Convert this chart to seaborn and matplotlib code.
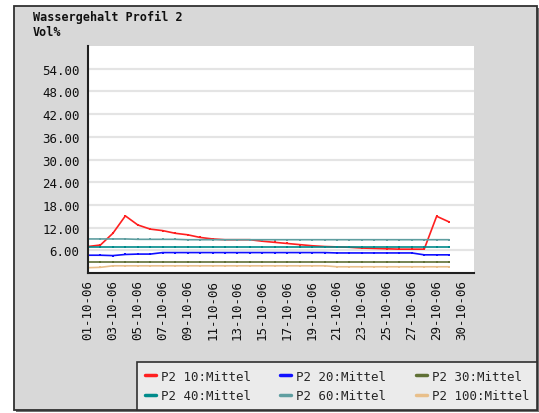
import matplotlib
matplotlib.use("Agg")
import matplotlib.pyplot as plt
from matplotlib.patches import Rectangle
import seaborn as sns
import pandas as pd

days = list(range(30))
tick_pos = [0, 2, 4, 6, 8, 10, 12, 14, 16, 18, 20, 22, 24, 26, 28, 30]
tick_labels = ["01-10-06", "03-10-06", "05-10-06", "07-10-06", "09-10-06",
               "11-10-06", "13-10-06", "15-10-06", "17-10-06", "19-10-06",
               "21-10-06", "23-10-06", "25-10-06", "27-10-06", "29-10-06",
               "30-10-06"]

p2_10 = [7.0, 7.4, 10.5, 15.1, 12.7, 11.6, 11.2, 10.5, 10.1, 9.4,
         9.0, 8.8, 8.8, 8.8, 8.4, 8.1, 7.8, 7.5, 7.2, 7.0,
         6.9, 6.8, 6.6, 6.5, 6.4, 6.3, 6.3, 6.3, 15.0, 13.5]
p2_20 = [4.7, 4.7, 4.6, 4.9, 5.0, 5.0, 5.4, 5.4, 5.4, 5.4,
         5.4, 5.4, 5.4, 5.4, 5.4, 5.4, 5.4, 5.4, 5.4, 5.4,
         5.3, 5.3, 5.3, 5.3, 5.3, 5.3, 5.3, 4.8, 4.8, 4.8]
p2_30 = [2.9] * 30
p2_40 = [6.9] * 30
p2_60 = [9.0, 9.0, 9.0, 9.0, 8.9, 8.9, 8.9, 8.9, 8.8, 8.8,
         8.8, 8.8, 8.8, 8.8, 8.8, 8.8, 8.8, 8.8, 8.8, 8.8,
         8.8, 8.8, 8.8, 8.8, 8.8, 8.8, 8.8, 8.8, 8.8, 8.8]
p2_100 = [1.4, 1.5, 1.9, 1.9, 1.9, 1.9, 1.9, 1.9, 1.9, 1.9,
          1.9, 1.9, 1.9, 1.9, 1.9, 1.9, 1.9, 1.9, 1.9, 1.9,
          1.65, 1.65, 1.65, 1.65, 1.65, 1.65, 1.65, 1.65, 1.65, 1.65]

series_names = ["P2 10:Mittel", "P2 20:Mittel", "P2 30:Mittel",
                "P2 40:Mittel", "P2 60:Mittel", "P2 100:Mittel"]
series_values = [p2_10, p2_20, p2_30, p2_40, p2_60, p2_100]
colors = ["#ff2020", "#1010ff", "#5f7035", "#008b8b", "#5f9ea0", "#e8bf8a"]

yticks = [6, 12, 18, 24, 30, 36, 42, 48, 54]

rows = []
for name, vals in zip(series_names, series_values):
    for d, v in zip(days, vals):
        rows.append({"day": d, "value": v, "series": name})
df = pd.DataFrame(rows)

sns.set_style("white")
mono = ["DejaVu Sans Mono", "DejaVu Sans"]
plt.rcParams["font.family"] = mono

W, H = 539, 414
fig = plt.figure(figsize=(W / 100, H / 100), dpi=100, facecolor="white")

# outer frame with shadow
fig.patches.append(Rectangle((16 / W, 1 - 413 / H), (539 - 16) / W, (413 - 9) / H,
                             transform=fig.transFigure, facecolor="#707070",
                             edgecolor="none", zorder=-3))
fig.patches.append(Rectangle((14 / W, 1 - 411 / H), (537 - 14) / W, (411 - 7) / H,
                             transform=fig.transFigure, facecolor="#d8d8d8",
                             edgecolor="#303030", linewidth=1.3, zorder=-2))

ax = fig.add_axes([88 / W, 1 - 274 / H, (474 - 88) / W, (274 - 47) / H])
ax.set_facecolor("white")

sns.lineplot(data=df, x="day", y="value", hue="series", palette=colors,
             hue_order=series_names, ax=ax, linewidth=1.2, marker="s",
             markersize=2, markeredgewidth=0, legend=True)

ax.set_xlim(0, 31)
ax.set_ylim(0, 60)
ax.set_yticks(yticks)
ax.set_yticklabels([f"{v:.2f}" for v in yticks])
ax.set_yticks([0, 60], minor=True)
ax.set_xticks(tick_pos)
ax.set_xticklabels(tick_labels, rotation=90)
ax.set_xlabel("")
ax.set_ylabel("")
ax.grid(axis="y", which="major", color="#e4e4e4", linewidth=1.6)
ax.grid(axis="x", visible=False)
ax.set_axisbelow(True)
for s in ["top", "right"]:
    ax.spines[s].set_visible(False)
for s in ["left", "bottom"]:
    ax.spines[s].set_color("#202020")
    ax.spines[s].set_linewidth(1.5)
ax.tick_params(axis="both", which="both", direction="in", length=6, width=1.3,
               color="#202020", labelsize=9, labelcolor="#101010", pad=4)
ax.tick_params(axis="y", which="major", pad=6)

handles, labels = ax.get_legend_handles_labels()
ax.get_legend().remove()
order = [0, 3, 1, 4, 2, 5]
handles = [handles[i] for i in order]
labels = [labels[i] for i in order]
for h in handles:
    h.set_linewidth(2.5)
    h.set_marker("")
leg = fig.legend(handles, labels, loc="lower left",
                 bbox_to_anchor=(137 / W, 1 - 411 / H, (537 - 137) / W, (411 - 360) / H),
                 mode="expand", ncol=3, frameon=True, fancybox=False,
                 facecolor="#ebebeb", edgecolor="#303030", framealpha=1,
                 fontsize=9, handlelength=0.9, handletextpad=0.4,
                 columnspacing=1.0, borderaxespad=0, borderpad=0.6,
                 labelspacing=0.55)
leg.get_frame().set_linewidth(1.2)

fig.text(33 / W, 1 - 11 / H, "Wassergehalt Profil 2\nVol%", ha="left", va="top",
         fontsize=8.5, fontweight="bold", family=mono, linespacing=1.15,
         color="#101010")

fig.savefig("out.png", dpi=100, facecolor="white")
